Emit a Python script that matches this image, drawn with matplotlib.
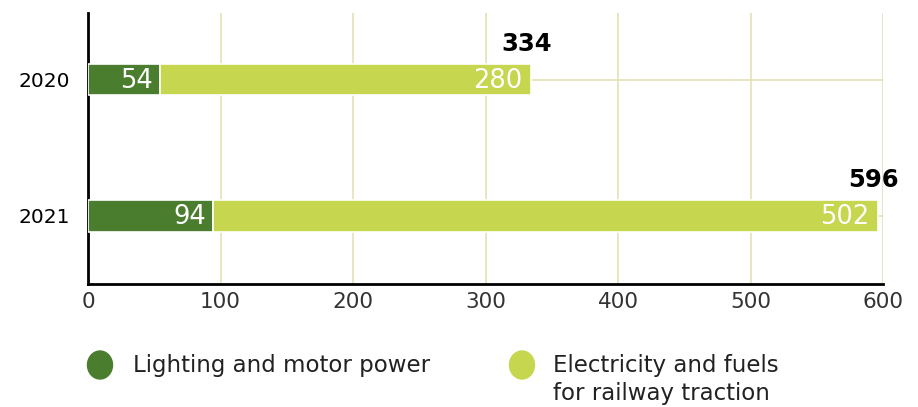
import matplotlib.pyplot as plt
from matplotlib.patches import Ellipse

plt.rcParams['font.family'] = ['DejaVu Sans']

years = ["2020", "2021"]
lighting = [54, 94]
traction = [280, 502]
totals = [334, 596]
series_names = ["Lighting and motor power", "Electricity and fuels\nfor railway traction"]
xticks = [0, 100, 200, 300, 400, 500, 600]

dark = "#4b7d2f"
light = "#c6d64f"
grid_col = "#e3e2b4"

fig = plt.figure(figsize=(9.18, 4.07), dpi=100)
ax = fig.add_axes([88 / 918, 1 - 284 / 407, (883 - 88) / 918, (284 - 13) / 407])

pos = list(range(len(years)))
ax.barh(pos, lighting, height=0.23, color=dark, edgecolor="white", linewidth=1.2, zorder=3)
ax.barh(pos, traction, left=lighting, height=0.23, color=light, edgecolor="white", linewidth=1.2, zorder=3)

for i in pos:
    ax.text(lighting[i] - 5, i + 0.01, str(lighting[i]), color="white", fontsize=18.5,
            ha="right", va="center", zorder=4)
    ax.text(lighting[i] + traction[i] - 6, i + 0.01, str(traction[i]), color="white", fontsize=18.5,
            ha="right", va="center", zorder=4)
    ax.text(totals[i] - 3, i - 0.175, str(totals[i]), color="black", fontsize=17.5,
            fontweight="bold", ha="center", va="bottom", zorder=4)

ax.set_xlim(0, 600)
ax.set_ylim(1.5, -0.49)
ax.set_xticks(xticks)
ax.set_yticks(pos)
ax.set_yticklabels(years)
ax.grid(True, color=grid_col, linewidth=1.2, zorder=0)
ax.set_axisbelow(True)

for s in ["top", "right"]:
    ax.spines[s].set_visible(False)
ax.spines["left"].set_linewidth(2)
ax.spines["bottom"].set_linewidth(2)
ax.tick_params(axis="x", length=0, labelsize=15.5, colors="#333333", pad=6)
ax.tick_params(axis="y", length=0, labelsize=14.5, labelcolor="black", pad=13)

# legend
W, H = 918, 407
for cx, col, lab, tx in [(100, dark, series_names[0], 133), (522, light, series_names[1], 553)]:
    fig.add_artist(Ellipse((cx / W, 1 - 365 / H), 25 / W, 28 / H, color=col,
                           transform=fig.transFigure))
    fig.text(tx / W, 1 - 354 / H, lab, fontsize=16.5, color="#222222", ha="left", va="top",
             linespacing=1.3)

fig.savefig("out.png", dpi=100)
